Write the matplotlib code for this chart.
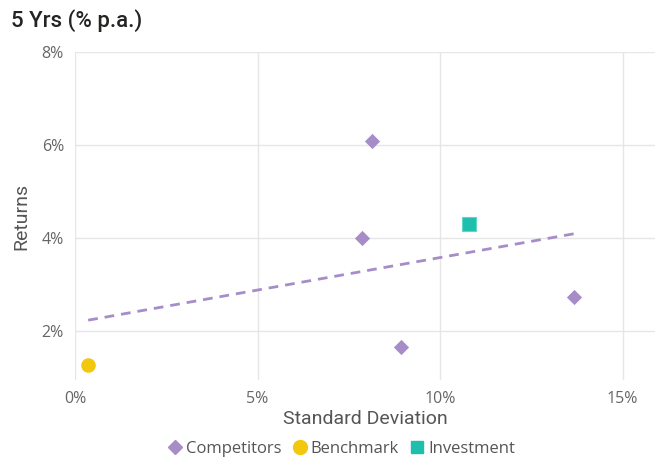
import numpy as np
import matplotlib.pyplot as plt
from matplotlib.ticker import FuncFormatter
from matplotlib.lines import Line2D

# Data (fractions)
comp_sd = [0.0814, 0.0786, 0.0893, 0.1366]
comp_ret = [0.0609, 0.0400, 0.0166, 0.0273]
bench_sd = [0.0036]
bench_ret = [0.0127]
inv_sd = [0.1080]
inv_ret = [0.0430]
x_ticks = [0, 0.05, 0.10, 0.15]
y_ticks = [0.02, 0.04, 0.06, 0.08]

purple = '#A68DC8'
yellow = '#F2C80F'
teal = '#1FBFAE'
gray = '#666666'

plt.rcParams['font.family'] = ['Open Sans', 'DejaVu Sans']

fig = plt.figure(figsize=(6.64, 4.61), dpi=100)
ax = fig.add_axes([0.113, 0.176, 0.874, 0.711])

# trend line: regression over all points
all_x = np.array(comp_sd + bench_sd + inv_sd)
all_y = np.array(comp_ret + bench_ret + inv_ret)
m, b = np.polyfit(all_x, all_y, 1)
tx = np.array([all_x.min(), all_x.max()])
ax.plot(tx, m * tx + b, color=purple, lw=2, ls=(0, (3.5, 2.5)), zorder=2)

ax.scatter(comp_sd, comp_ret, marker='D', s=60, color=purple, zorder=3, linewidths=0)
ax.scatter(bench_sd, bench_ret, marker='o', s=110, color=yellow, zorder=3, linewidths=0)
ax.scatter(inv_sd, inv_ret, marker='s', s=110, color=teal, zorder=3, edgecolors='#5FD6C9', linewidths=0.8)

ax.set_xlim(0, 0.159)
ax.set_ylim(0.0095, 0.08)
ax.set_xticks(x_ticks)
ax.set_yticks(y_ticks)
pct = FuncFormatter(lambda v, p: f"{v*100:.0f}%")
ax.xaxis.set_major_formatter(pct)
ax.yaxis.set_major_formatter(pct)
ax.grid(True, color='#E6E6E6', lw=1)
ax.set_axisbelow(True)
for s in ax.spines.values():
    s.set_visible(False)
ax.tick_params(length=0, labelsize=11.5, labelcolor=gray, pad=8)

ax.set_xlabel('Standard Deviation', fontsize=14, color='#555555', labelpad=2,
              family=['Roboto', 'DejaVu Sans'])
ax.set_ylabel('Returns', fontsize=14, color='#555555', labelpad=8,
              family=['Roboto', 'DejaVu Sans'])

fig.text(0.017, 0.955, '5 Yrs (% p.a.)', fontsize=16, color='#252423', va='center', ha='left',
         family=['Roboto', 'DejaVu Sans'], weight='medium')

handles = [
    Line2D([], [], marker='D', color=purple, ls='', markersize=7),
    Line2D([], [], marker='o', color=yellow, ls='', markersize=10),
    Line2D([], [], marker='s', color=teal, ls='', markersize=9),
]
fig.legend(handles, ['Competitors', 'Benchmark', 'Investment'], loc='center',
           bbox_to_anchor=(0.512, 0.027), ncol=3, frameon=False, fontsize=12,
           handletextpad=0.05, columnspacing=0.5, labelcolor='#555555', handlelength=1.2)

fig.savefig('out.png', dpi=100)
